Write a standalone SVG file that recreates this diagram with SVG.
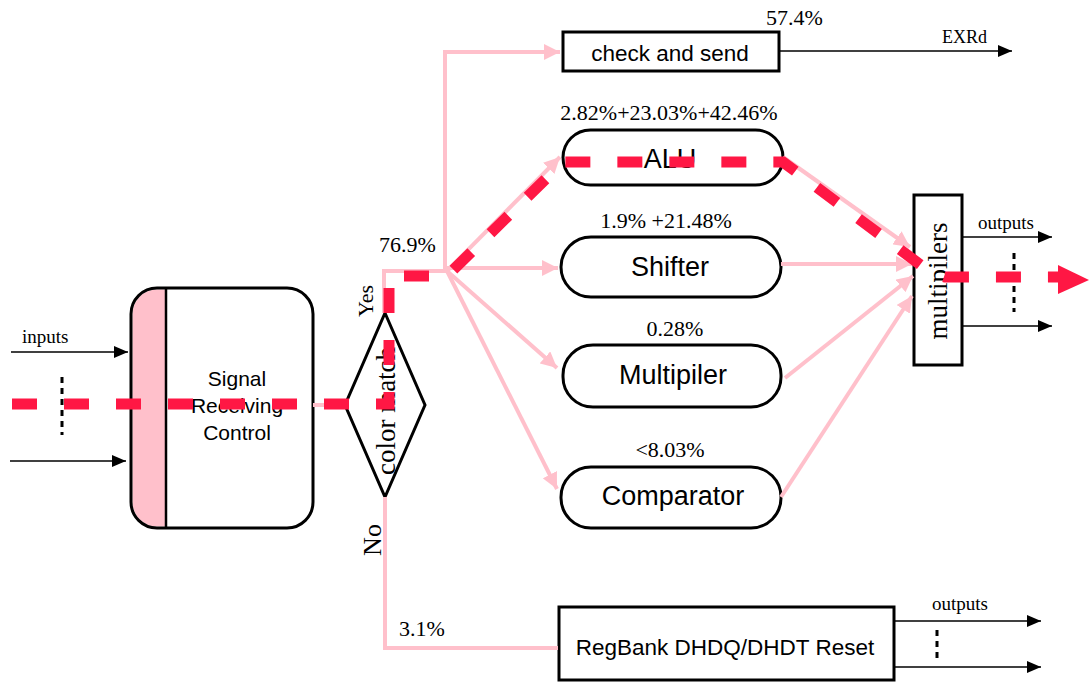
<svg xmlns="http://www.w3.org/2000/svg" width="1089" height="683" viewBox="0 0 1089 683">
<style>
.box{fill:#fff;stroke:#000;stroke-width:3}
.sans{font-family:"Liberation Sans",Arial,sans-serif;fill:#000}
.serif{font-family:"Liberation Serif","Times New Roman",serif;fill:#000}
.pk{fill:none;stroke:#ffc0cb;stroke-width:4}
.blk{fill:none;stroke:#000;stroke-width:1.5}
.dot{fill:none;stroke:#000;stroke-width:3;stroke-dasharray:6 5}
.red{fill:none;stroke:#ff1744;stroke-width:11;stroke-dasharray:25 27}
</style>
<defs>
<marker id="ab" markerUnits="userSpaceOnUse" markerWidth="14" markerHeight="12" refX="14" refY="6" orient="auto"><path d="M0,0 L14,6 L0,12 z" fill="#000"/></marker>
<marker id="ap" markerUnits="userSpaceOnUse" markerWidth="16" markerHeight="16" refX="16" refY="8" orient="auto"><path d="M0,0 L16,8 L0,16 z" fill="#ffc0cb"/></marker>
</defs>
<rect width="1089" height="683" fill="#fff"/>

<g id="src">
<path d="M157,289.5 H166 V526.5 H157 A24.5,24.5 0 0 1 132.5,502 V314 A24.5,24.5 0 0 1 157,289.5 z" fill="#ffc0cb"/>
<rect x="131" y="288" width="182" height="240" rx="26" fill="none" stroke="#000" stroke-width="3"/>
<line x1="166" y1="289" x2="166" y2="527" stroke="#000" stroke-width="2.5"/>
<text class="sans" font-size="21" text-anchor="middle" x="237" y="386">Signal</text>
<text class="sans" font-size="21" text-anchor="middle" x="237" y="413">Receiving</text>
<text class="sans" font-size="21" text-anchor="middle" x="237" y="440">Control</text>
</g>

<g id="inputs">
<text class="serif" font-size="19" x="22" y="343">inputs</text>
<line x1="11" y1="352" x2="128" y2="352" class="blk" marker-end="url(#ab)"/>
<line x1="10" y1="461" x2="126" y2="461" class="blk" marker-end="url(#ab)"/>
<line x1="62" y1="377" x2="62" y2="435" class="dot"/>
</g>

<g id="diamond">
<polygon points="385,313 425,405 385,497 345,405" fill="#fff" stroke="#000" stroke-width="3"/>
<text class="serif" font-size="27" text-anchor="middle" transform="translate(395,411) rotate(-90)">color match</text>
</g>

<g id="check">
<rect x="563" y="32" width="216" height="39" class="box"/>
<text class="sans" font-size="22.5" text-anchor="middle" x="670" y="61">check and send</text>
</g>
<g id="alu">
<rect x="563" y="130" width="220" height="55" rx="27.5" class="box"/>
<text class="sans" font-size="27" text-anchor="middle" x="670" y="168">ALU</text>
</g>
<g id="shifter">
<rect x="561" y="237" width="220" height="60" rx="30" class="box"/>
<text class="sans" font-size="27" text-anchor="middle" x="670" y="276">Shifter</text>
</g>
<g id="multipiler">
<rect x="563" y="345" width="218" height="62" rx="30" class="box"/>
<text class="sans" font-size="27" text-anchor="middle" x="673" y="384">Multipiler</text>
</g>
<g id="comparator">
<rect x="561" y="467" width="220" height="61" rx="30" class="box"/>
<text class="sans" font-size="27" text-anchor="middle" x="673" y="505">Comparator</text>
</g>
<g id="multipilers">
<rect x="914" y="195" width="48" height="170" class="box"/>
<text class="serif" font-size="27" text-anchor="middle" transform="translate(947,281) rotate(-90)">multipilers</text>
</g>
<g id="regbank">
<rect x="559" y="607" width="335" height="73" class="box"/>
<text class="sans" font-size="22.5" text-anchor="middle" x="725" y="655">RegBank DHDQ/DHDT Reset</text>
</g>

<g id="connectors">
<line x1="313" y1="405" x2="345" y2="405" class="pk"/>
<polyline points="384,313 384,271 447,271" class="pk"/>
<polyline points="445,271 445,52 560,52" class="pk" marker-end="url(#ap)"/>
<line x1="447" y1="271" x2="560" y2="157" class="pk" marker-end="url(#ap)"/>
<line x1="447" y1="268" x2="558" y2="268" class="pk" marker-end="url(#ap)"/>
<line x1="447" y1="271" x2="557" y2="368" class="pk" marker-end="url(#ap)"/>
<line x1="447" y1="271" x2="557" y2="489" class="pk" marker-end="url(#ap)"/>
<line x1="783" y1="157" x2="910" y2="247" class="pk" marker-end="url(#ap)"/>
<line x1="781" y1="264" x2="912" y2="264" class="pk" marker-end="url(#ap)"/>
<line x1="785" y1="378" x2="913" y2="276" class="pk" marker-end="url(#ap)"/>
<line x1="781" y1="497" x2="912" y2="296" class="pk" marker-end="url(#ap)"/>
<polyline points="385,497 385,648 558,648" class="pk"/>
<line x1="779" y1="51" x2="1012" y2="51" class="blk" marker-end="url(#ab)"/>
<line x1="962" y1="237" x2="1052" y2="237" class="blk" marker-end="url(#ab)"/>
<line x1="962" y1="326" x2="1052" y2="326" class="blk" marker-end="url(#ab)"/>
<line x1="1014" y1="253" x2="1014" y2="312" class="dot"/>
<line x1="894" y1="621" x2="1041" y2="621" class="blk" marker-end="url(#ab)"/>
<line x1="894" y1="667" x2="1041" y2="667" class="blk" marker-end="url(#ab)"/>
<line x1="937" y1="630" x2="937" y2="662" class="dot"/>
<path d="M12,404 H389 V276 H447 L563,162 H783 L930,272 L945,277 H1062" class="red"/>
<polygon points="1058,265 1089,280 1058,294" fill="#ff1744"/>
</g>

<g id="labels">
<text class="serif" font-size="22" x="379" y="252">76.9%</text>
<text class="serif" font-size="22" text-anchor="middle" transform="translate(373,301) rotate(-90)">Yes</text>
<text class="serif" font-size="26" text-anchor="middle" transform="translate(381,540) rotate(-90)">No</text>
<text class="serif" font-size="22" x="399" y="636">3.1%</text>
<text class="serif" font-size="22" x="766" y="25">57.4%</text>
<text class="serif" font-size="18" x="942" y="43">EXRd</text>
<text class="serif" font-size="22" text-anchor="middle" x="669" y="120">2.82%+23.03%+42.46%</text>
<text class="serif" font-size="22" text-anchor="middle" x="666" y="228">1.9% +21.48%</text>
<text class="serif" font-size="22" text-anchor="middle" x="675" y="336">0.28%</text>
<text class="serif" font-size="22" text-anchor="middle" x="670" y="457">&lt;8.03%</text>
<text class="serif" font-size="19" x="978" y="229">outputs</text>
<text class="serif" font-size="19" x="932" y="610">outputs</text>
</g>
</svg>
